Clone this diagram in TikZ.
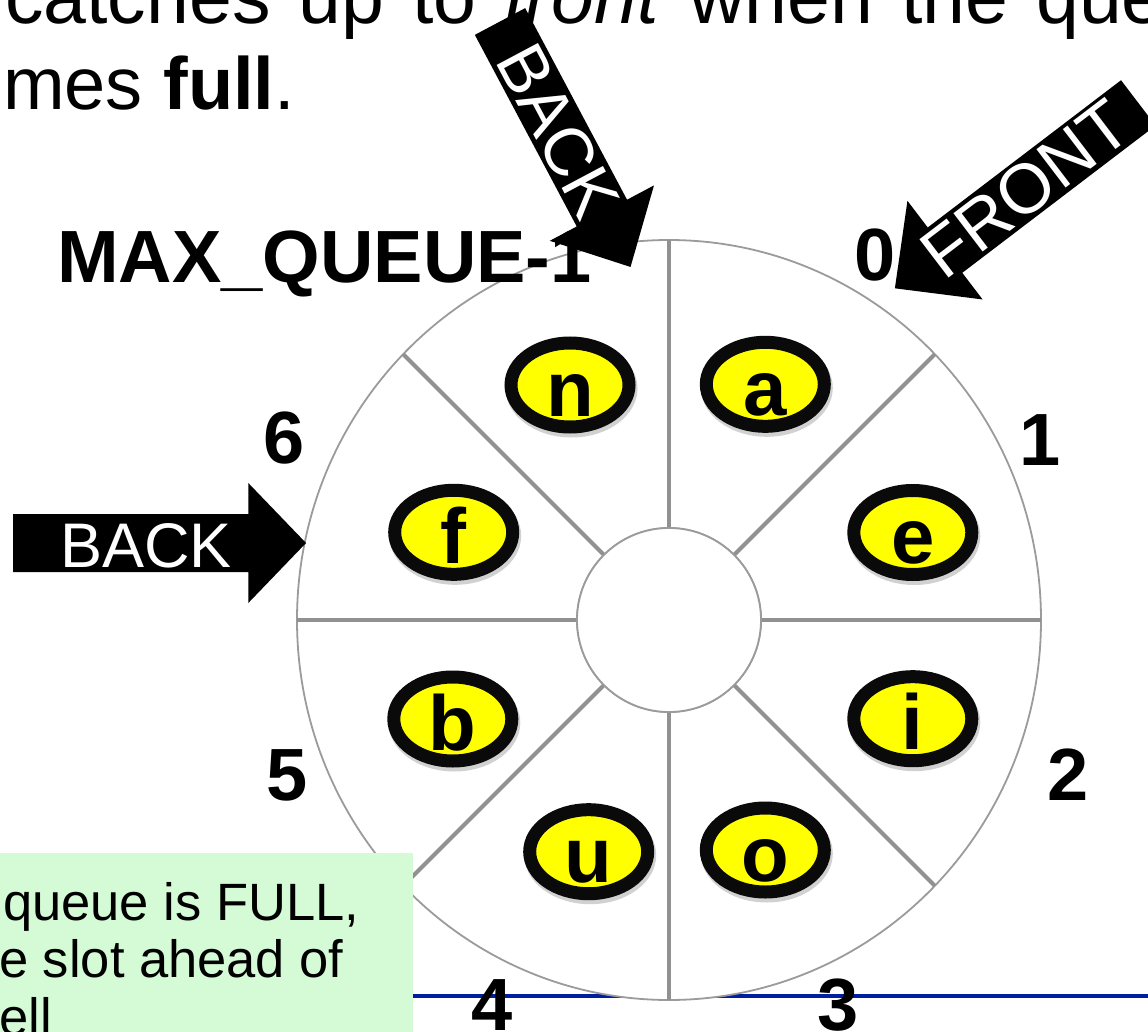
\documentclass[tikz,border=0pt]{standalone}
\usepackage{fontspec}
\setmainfont{Liberation Sans}
\usetikzlibrary{shapes.geometric}
\definecolor{notegreen}{RGB}{212,250,214}
\definecolor{lineblue}{RGB}{0,30,160}
\definecolor{spokegray}{RGB}{145,145,145}
\definecolor{rimgray}{RGB}{155,155,155}
\definecolor{pillyellow}{RGB}{255,255,0}
\definecolor{pillblack}{RGB}{10,10,10}
\begin{document}
\begin{tikzpicture}[x=1pt,y=1pt,
  rim/.style={ellipse, draw=rimgray, line width=1.8pt, fill=white, minimum width=744pt, minimum height=760pt, inner sep=0pt, outer sep=0pt},
  hub/.style={circle, draw=rimgray, line width=1.8pt, fill=white, minimum size=184pt, inner sep=0pt, outer sep=0pt},
  spoke/.style={draw=spokegray, line width=4pt},
  pill/.style={ellipse, draw=pillblack, line width=13pt, fill=pillyellow, minimum width=118pt, minimum height=84pt, inner sep=0pt},
  pillshadow/.style={fill=black, opacity=0.18},
  pilltext/.style={font=\fontsize{78}{78}\selectfont\bfseries, inner sep=0pt, anchor=base},
  numlabel/.style={font=\fontsize{74}{74}\selectfont\bfseries, inner sep=0pt, anchor=base},
  blockarrow/.style={fill=black},
  arrowtext/.style={text=white, inner sep=0pt, transform shape},
  headline/.style={inner sep=0pt, anchor=base west},
  notetext/.style={font=\fontsize{52.5}{52.5}\selectfont, inner sep=0pt, anchor=base west},
]
\useasboundingbox (0,0) rectangle (1148,-1032);
\clip (0,0) rectangle (1148,-1032);

% blue rule (behind everything)
\coordinate (bl1) at (412.7,-996);
\coordinate (bl2) at (1148,-996);
\draw[lineblue, line width=4pt] (bl1) -- (bl2);

% ring
\node[rim] (rim) at (669,-620) {};
\node[hub] (hub) at (669,-620) {};
\foreach \a in {0,45,...,315} \draw[spoke] (hub.\a) -- (rim.\a);
\node[hub] (hubtop) at (669,-620) {};

% pills
\foreach \nm/\px/\py/\lt in {pn/570/385/n, pa/765.3/384.3/a, pe/912.8/532.5/e, pi/912.8/718.7/i, po/765.3/850/o, pu/588.7/851.7/u, pb/452.8/719/b, pf/453.7/532.3/f} {
  \fill[pillshadow] (\px+1.5,-\py-3.5) ellipse [x radius=66, y radius=49];
  \node[pill] (\nm) at (\px,-\py) {};
  \node[pilltext] (\nm-t) at (\px,-\py-31) {\lt};
}

% note box
\fill[notegreen] (0,-852.7) rectangle (412.7,-1032);
\node[notetext] (note1) at (3,-920) {queue is FULL,};
\node[notetext] (note2) at (-1,-977) {e slot ahead of};
\node[notetext] (note3) at (-1,-1035) {ell};

% index labels
\node[numlabel, anchor=base west] (lmax) at (57,-283) {MAX\_QUEUE-1};
\node[numlabel] (l0) at (875.5,-280) {0};
\node[numlabel] (l1) at (1040,-465) {1};
\node[numlabel] (l2) at (1068,-800) {2};
\node[numlabel] (l3) at (838,-1030) {3};
\node[numlabel] (l4) at (492.5,-1030) {4};
\node[numlabel] (l5) at (287,-800) {5};
\node[numlabel] (l6) at (284,-463) {6};

% heading text (cut off)
\node[headline, font=\fontsize{77}{77}\selectfont] (head1) at (5,-24) {\spaceskip=28pt\relax catches up to \textit{front} when the queue};
\node[headline, font=\fontsize{74}{74}\selectfont] (head2) at (3,-110) {mes \textbf{full}.};

% BACK arrow (top)
\begin{scope}[shift={(500,-21.5)}, rotate=-62]
  \fill[blockarrow] (0,28.5) -- (217,28.5) -- (217,59) -- (278,0) -- (217,-59) -- (217,-28.5) -- (0,-28.5) -- cycle;
  \node[arrowtext, font=\fontsize{68}{68}\selectfont] (backtop) at (124,0) {BACK};
\end{scope}

% FRONT arrow
\begin{scope}[shift={(1138.3,-102.9)}, rotate=217.3]
  \fill[blockarrow] (0,28.5) -- (243,28.5) -- (243,62) -- (306,0) -- (243,-62) -- (243,-28.5) -- (0,-28.5) -- cycle;
  \node[arrowtext, font=\fontsize{70}{70}\selectfont, rotate=180] (fronttxt) at (142,0) {FRONT};
\end{scope}

% BACK arrow (left)
\begin{scope}[shift={(13,-543)}]
  \fill[blockarrow] (0,29) -- (235.3,29) -- (235.3,60) -- (293,0) -- (235.3,-60) -- (235.3,-29) -- (0,-29) -- cycle;
  \node[arrowtext, font=\fontsize{63}{63}\selectfont] (backleft) at (133,-3) {BACK};
\end{scope}
\end{tikzpicture}
\end{document}
